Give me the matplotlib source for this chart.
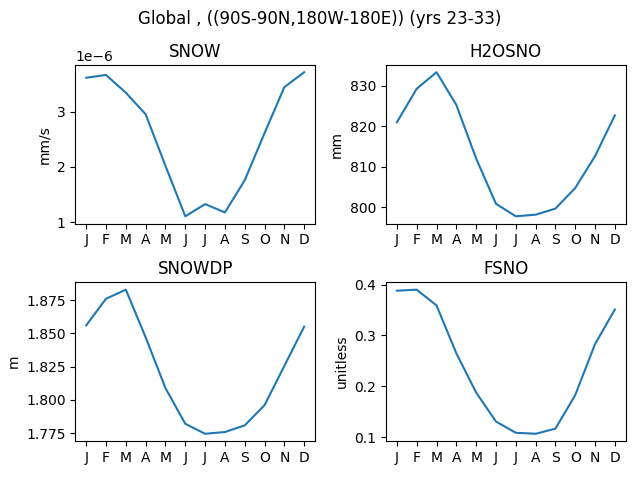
import matplotlib
matplotlib.use("Agg")
import matplotlib.pyplot as plt
import numpy as np

months = ["J", "F", "M", "A", "M", "J", "J", "A", "S", "O", "N", "D"]

snow = [3.61e-6, 3.66e-6, 3.34e-6, 2.95e-6, 2.02e-6, 1.11e-6,
        1.33e-6, 1.18e-6, 1.76e-6, 2.61e-6, 3.44e-6, 3.71e-6]
h2osno = [821.0, 829.3, 833.4, 825.3, 812.0, 800.8,
          797.7, 798.1, 799.6, 804.7, 812.6, 822.7]
snowdp = [1.856, 1.876, 1.8828, 1.847, 1.8088, 1.782,
          1.7745, 1.7758, 1.7808, 1.796, 1.8255, 1.855]
fsno = [0.388, 0.390, 0.359, 0.265, 0.188, 0.131,
        0.109, 0.107, 0.117, 0.183, 0.283, 0.351]

panels = [
    ("SNOW", snow, "mm/s"),
    ("H2OSNO", h2osno, "mm"),
    ("SNOWDP", snowdp, "m"),
    ("FSNO", fsno, "unitless"),
]

fig, axes = plt.subplots(2, 2, figsize=(6.4, 4.8), dpi=100)
x = np.arange(len(months))
for ax, (name, vals, units) in zip(axes.flat, panels):
    ax.plot(x, vals)
    ax.set_title(name)
    ax.set_ylabel(units)
    ax.set_xticks(x)
    ax.set_xticklabels(months)

fig.suptitle("Global , ((90S-90N,180W-180E)) (yrs 23-33)")
# match the reference layout (tight-ish)
fig.subplots_adjust(left=0.1177, right=0.9777, top=0.8646, bottom=0.0813,
                    wspace=0.296, hspace=0.372)
fig.savefig("out.png")
